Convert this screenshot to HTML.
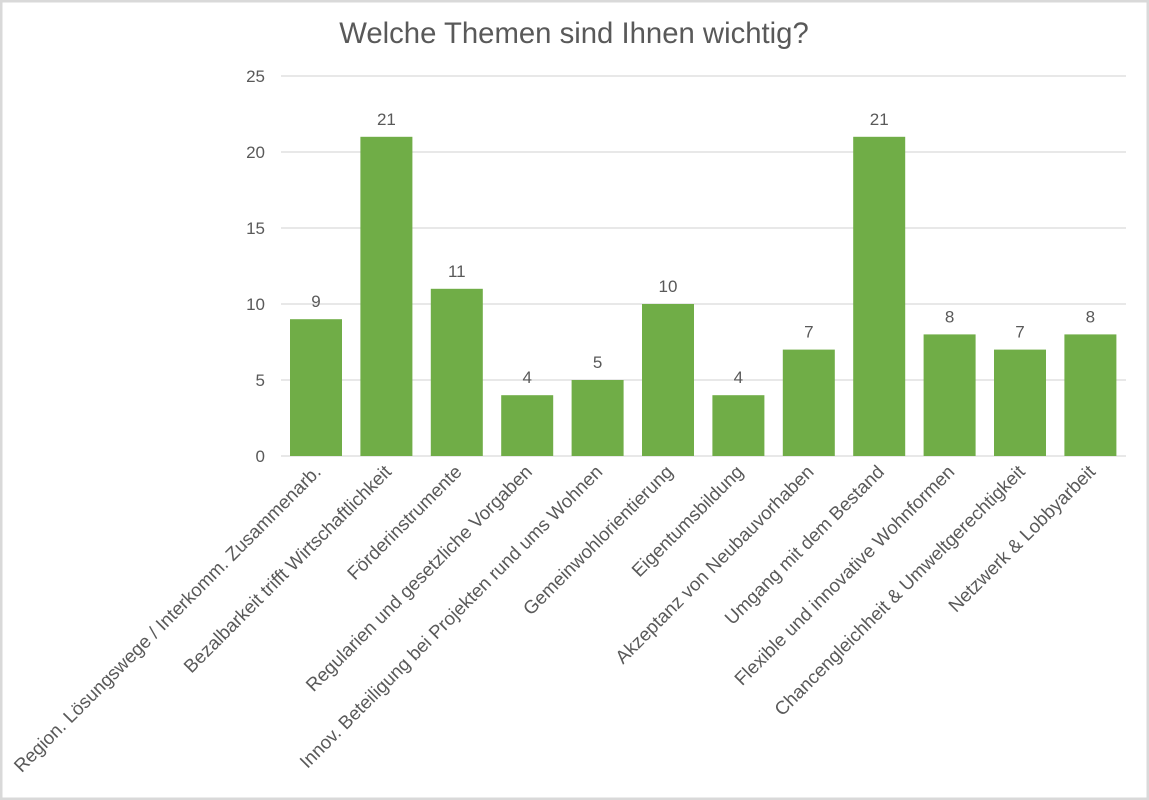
<!DOCTYPE html>
<html><head><meta charset="utf-8"><style>
html,body{margin:0;padding:0;background:#fff}
svg{display:block}
text{font-family:"Liberation Sans",Arial,sans-serif;fill:#595959}
</style></head><body>
<svg width="1149" height="800" viewBox="0 0 1149 800" xmlns="http://www.w3.org/2000/svg">
<rect x="1" y="1" width="1147" height="798" fill="#fff" stroke="#d9d9d9" stroke-width="3"/>
<text x="574" y="43" font-size="29.3" text-anchor="middle">Welche Themen sind Ihnen wichtig?</text>
<g stroke="#d9d9d9" stroke-width="1.3">
<line x1="281" y1="76" x2="1126" y2="76"/>
<line x1="281" y1="152" x2="1126" y2="152"/>
<line x1="281" y1="228" x2="1126" y2="228"/>
<line x1="281" y1="304" x2="1126" y2="304"/>
<line x1="281" y1="380" x2="1126" y2="380"/>
<line x1="281" y1="456" x2="1126" y2="456"/>
</g>
<g font-size="17" text-anchor="end">
<text x="265" y="82">25</text>
<text x="265" y="158">20</text>
<text x="265" y="234">15</text>
<text x="265" y="310">10</text>
<text x="265" y="386">5</text>
<text x="265" y="462">0</text>
</g>
<g fill="#70ad47" id="bars"></g>
<g font-size="17" text-anchor="middle" id="vals"></g>
<g font-size="18.7" text-anchor="end" id="labs"></g>
<script>
var d=[["Region. Lösungswege / Interkomm. Zusammenarb.",9],["Bezalbarkeit trifft Wirtschaftlichkeit",21],["Förderinstrumente",11],["Regularien und gesetzliche Vorgaben",4],["Innov. Beteiligung bei Projekten rund ums Wohnen",5],["Gemeinwohlorientierung",10],["Eigentumsbildung",4],["Akzeptanz von Neubauvorhaben",7],["Umgang mit dem Bestand",21],["Flexible und innovative Wohnformen",8],["Chancengleichheit & Umweltgerechtigkeit",7],["Netzwerk & Lobbyarbeit",8]];
var ns="http://www.w3.org/2000/svg",b=document.getElementById("bars"),v=document.getElementById("vals"),l=document.getElementById("labs");
d.forEach(function(e,i){var c=316+i*70.4,h=e[1]*15.2;
var r=document.createElementNS(ns,"rect");r.setAttribute("x",c-26);r.setAttribute("y",456-h);r.setAttribute("width",52);r.setAttribute("height",h);b.appendChild(r);
var t=document.createElementNS(ns,"text");t.setAttribute("x",c);t.setAttribute("y",456-h-12);t.textContent=e[1];v.appendChild(t);
var s=document.createElementNS(ns,"text");s.setAttribute("transform","translate("+(c+6)+",473) rotate(-45)");s.textContent=e[0];l.appendChild(s);});
</script>
</svg>
</body></html>
